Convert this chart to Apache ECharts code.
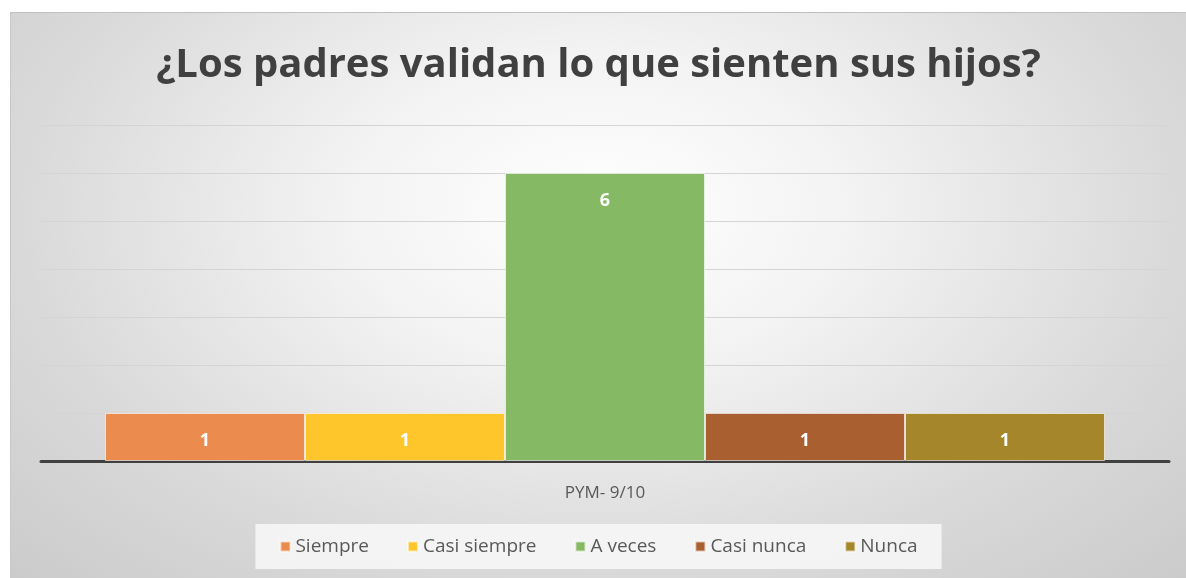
<!DOCTYPE html>
<html>
<head>
    <meta charset="utf-8">
    <script src="https://cdn.jsdelivr.net/npm/echarts@6/dist/echarts.min.js"></script>
    <style>
        body { margin: 0; background: #fff; }
        #chart {
            position: absolute; left: 10px; top: 12px;
            width: 1176px; height: 566px;
            border-top: 1px solid #c0c0c0; border-left: 1px solid #c8c8c8;
            box-sizing: border-box;
            background: radial-gradient(ellipse farthest-corner at 50% 35%, #ffffff 0%, #f3f3f3 30%, #d9d9d9 70%, #cbcbcb 100%);
        }
    </style>
</head>
<body>
    <div id="chart"></div>
    <script type="text/javascript">
        var categories = ['PYM- 9/10'];
        var seriesNames = ['Siempre', 'Casi siempre', 'A veces', 'Casi nunca', 'Nunca'];
        var seriesValues = [[1], [1], [6], [1], [1]];
        var colors = ['#EB8C4E', '#FEC62B', '#86B963', '#A95F30', '#A6862A'];

        var chart = echarts.init(document.getElementById('chart'));

        var series = [];
        for (var i = 0; i < seriesNames.length; i++) {
            series.push({
                name: seriesNames[i],
                type: 'bar',
                data: seriesValues[i],
                barWidth: 200,
                barGap: 0,
                itemStyle: {
                    color: colors[i],
                    borderColor: 'rgba(255,255,255,0.6)',
                    borderWidth: 1
                },
                label: {
                    show: true,
                    position: 'insideTop',
                    distance: 19,
                    color: '#fff',
                    fontWeight: 'bold',
                    fontSize: 18,
                    fontFamily: 'Open Sans'
                }
            });
        }

        var option = {
            animation: false,
            color: colors,
            title: {
                text: '¿Los padres validan lo que sienten sus hijos?',
                left: 'center',
                top: 28,
                textStyle: {
                    fontFamily: 'Open Sans',
                    fontWeight: 'bold',
                    fontSize: 40,
                    color: '#404040'
                }
            },
            legend: {
                bottom: 9,
                left: 'center',
                itemWidth: 10,
                itemHeight: 10,
                itemGap: 38,
                icon: 'rect',
                padding: [13, 24],
                backgroundColor: 'rgba(248,248,248,0.85)',
                textStyle: {
                    fontFamily: 'Open Sans',
                    fontSize: 19,
                    color: '#595959'
                },
                data: seriesNames
            },
            grid: {
                left: 30,
                right: 17,
                top: 112,
                bottom: 117
            },
            xAxis: {
                type: 'category',
                data: categories,
                axisLine: { lineStyle: { color: '#404040', width: 3 } },
                axisTick: { show: false },
                axisLabel: {
                    margin: 24,
                    fontFamily: 'Open Sans',
                    fontSize: 17,
                    color: '#595959'
                }
            },
            yAxis: {
                type: 'value',
                min: 0,
                max: 7,
                interval: 1,
                axisLabel: { show: false },
                axisLine: { show: false },
                axisTick: { show: false },
                splitLine: { lineStyle: { color: '#d4d4d4', width: 1 } }
            },
            series: series
        };

        chart.setOption(option);
    </script>
</body>
</html>
